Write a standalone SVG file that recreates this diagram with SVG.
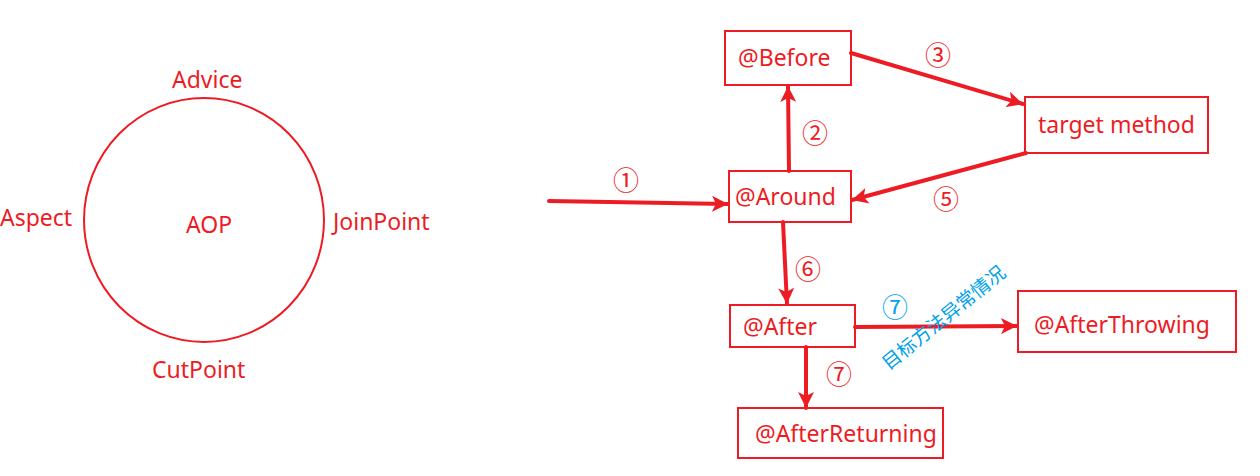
<svg xmlns="http://www.w3.org/2000/svg" width="1260" height="476" viewBox="0 0 1260 476">
<defs>
<style>
.box{fill:none;stroke:#ED1C24;stroke-width:2}
.t{font-family:"Noto Sans","Open Sans","Liberation Sans",sans-serif;font-size:23px;fill:#ED1C24}
.n{font-family:"Noto Sans CJK SC","Noto Sans",sans-serif;font-size:26px;fill:#ED1C24;text-anchor:middle}
.blue{fill:#00A2E8}
.c{fill:none;stroke:#ED1C24;stroke-width:4;stroke-linecap:round;marker-end:url(#ah)}
</style>
<marker id="ah" markerUnits="userSpaceOnUse" markerWidth="18" markerHeight="16" refX="16" refY="8" orient="auto">
<path d="M0,0 L16,8 L0,16 L4,8 z" fill="#ED1C24"/>
</marker>
</defs>
<rect width="1260" height="476" fill="#ffffff"/>

<g id="aop">
<ellipse cx="204" cy="220" rx="120" ry="122" fill="none" stroke="#ED1C24" stroke-width="2"/>
<text class="t" x="186" y="233">AOP</text>
<text class="t" x="172" y="88">Advice</text>
<text class="t" x="0" y="226">Aspect</text>
<text class="t" x="333" y="230">JoinPoint</text>
<text class="t" x="152" y="378">CutPoint</text>
</g>

<g id="connectors">
<line class="c" x1="549" y1="201" x2="728" y2="204"/>
<line class="c" x1="789" y1="171" x2="788" y2="86"/>
<line class="c" x1="851" y1="53" x2="1023" y2="104"/>
<line class="c" x1="1026" y1="153" x2="852" y2="200"/>
<line class="c" x1="783" y1="222" x2="787" y2="304"/>
<line class="c" x1="855" y1="327" x2="1017" y2="326"/>
<line class="c" x1="806" y1="347" x2="806" y2="408"/>
</g>

<g id="labels">
<text class="n" x="626" y="190">①</text>
<text class="n" x="815" y="142.5">②</text>
<text class="n" x="938" y="65">③</text>
<text class="n" x="946" y="208.5">⑤</text>
<text class="n" x="808" y="278.5">⑥</text>
<text class="n blue" x="895" y="317">⑦</text>
<text class="n" x="839" y="384">⑦</text>
<text class="blue" transform="translate(943.5,317.5) rotate(-39)" x="0" y="7" text-anchor="middle" font-family="Noto Sans CJK SC, sans-serif" font-size="19">目标方法异常情况</text>
</g>

<g id="before">
<rect class="box" x="725" y="31" width="126" height="54"/>
<text class="t" x="738" y="66">@Before</text>
</g>
<g id="target">
<rect class="box" x="1025" y="97" width="183" height="56"/>
<text class="t" x="1038" y="133">target method</text>
</g>
<g id="around">
<rect class="box" x="729" y="171" width="122" height="51"/>
<text class="t" x="735" y="205">@Around</text>
</g>
<g id="after">
<rect class="box" x="730" y="305" width="125" height="42"/>
<text class="t" x="743" y="335">@After</text>
</g>
<g id="afterThrowing">
<rect class="box" x="1018" y="291" width="218" height="61"/>
<text class="t" x="1034" y="333">@AfterThrowing</text>
</g>
<g id="afterReturning">
<rect class="box" x="738" y="408" width="205" height="50"/>
<text class="t" x="755" y="442">@AfterReturning</text>
</g>
</svg>
